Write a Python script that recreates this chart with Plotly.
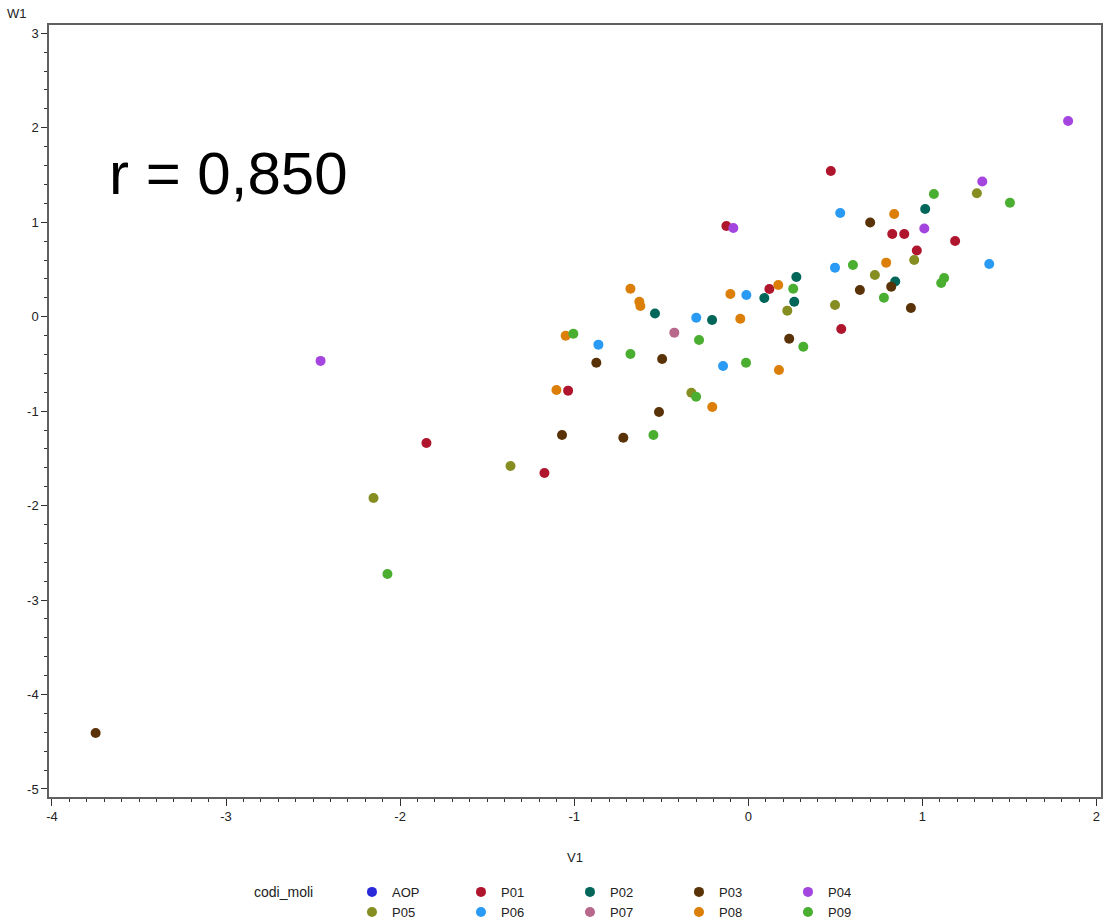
import plotly.graph_objects as go

groups = ["AOP", "P01", "P02", "P03", "P04", "P05", "P06", "P07", "P08", "P09"]
colors = ["#2A2ADB", "#B0152E", "#006659", "#5A3208", "#A545E0",
          "#868E22", "#2A9BF5", "#B8688A", "#DB7F08", "#4AAE30"]

# AOP appears only in the legend (no visible observations)
x_AOP = [None]
y_AOP = [None]
x_P01 = [0.474, -0.126, 0.827, 0.896, 0.968, 1.188, 0.121, 0.534, -1.035, -1.849, -1.171]
y_P01 = [1.542, 0.960, 0.875, 0.875, 0.701, 0.801, 0.293, -0.130, -0.783, -1.337, -1.655]
x_P02 = [1.016, 0.276, 0.092, 0.264, -0.536, -0.208, 0.844]
y_P02 = [1.140, 0.421, 0.198, 0.159, 0.034, -0.035, 0.373]
x_P03 = [0.700, 0.641, 0.821, 0.934, 0.235, -0.495, -0.873, -0.513, -1.070, -0.718, -3.749]
y_P03 = [0.997, 0.283, 0.318, 0.092, -0.233, -0.448, -0.487, -1.009, -1.252, -1.281, -4.407]
x_P04 = [1.837, -2.457, -0.086, 1.344, 1.011]
y_P04 = [2.072, -0.468, 0.939, 1.431, 0.934]
x_P05 = [1.313, 0.953, 0.727, 0.498, 0.224, -0.327, -1.366, -2.153]
y_P05 = [1.306, 0.600, 0.441, 0.124, 0.064, -0.805, -1.581, -1.919]
x_P06 = [0.528, 0.498, 1.384, -0.011, -0.299, -0.861, -0.145]
y_P06 = [1.098, 0.519, 0.558, 0.230, -0.011, -0.296, -0.522]
x_P07 = [-0.425]
y_P07 = [-0.169]
x_P08 = [0.838, 0.792, 0.172, -0.103, -0.046, -0.677, -0.626, -0.620, -1.049, -1.102, -0.207, 0.176]
y_P08 = [1.087, 0.572, 0.336, 0.240, -0.021, 0.296, 0.159, 0.113, -0.201, -0.776, -0.956, -0.564]
x_P09 = [1.066, 1.503, 0.601, 0.258, 0.779, 1.125, 1.108, 0.316, -0.013, -0.283, -0.677, -1.005, -0.300, -0.545, -2.073]
y_P09 = [1.299, 1.207, 0.547, 0.296, 0.201, 0.410, 0.357, -0.318, -0.487, -0.247, -0.395, -0.180, -0.847, -1.252, -2.724]

xs = [x_AOP, x_P01, x_P02, x_P03, x_P04, x_P05, x_P06, x_P07, x_P08, x_P09]
ys = [y_AOP, y_P01, y_P02, y_P03, y_P04, y_P05, y_P06, y_P07, y_P08, y_P09]

x_tick_vals = [-4, -3, -2, -1, 0, 1, 2]
x_tick_text = ["-4", "-3", "-2", "-1", "0", "1", "2"]
y_tick_vals = [-5, -4, -3, -2, -1, 0, 1, 2, 3]
y_tick_text = ["-5", "-4", "-3", "-2", "-1", "0", "1", "2", "3"]

r_label = "r = 0,850"
x_title = "V1"
y_title = "W1"
legend_title = "codi_moli"

FONT = "Liberation Sans, Arial, sans-serif"

fig = go.Figure()
for i, (g, c, xv, yv) in enumerate(zip(groups, colors, xs, ys)):
    fig.add_trace(go.Scatter(
        x=xv, y=yv, mode="markers", name=g,
        marker=dict(color=c, size=10, line=dict(width=0)),
        legend="legend" if i < 5 else "legend2",
    ))

axis_common = dict(
    showgrid=False, zeroline=False, showline=True, mirror=True,
    linecolor="#606060", linewidth=1.5,
    ticks="outside", tickcolor="#303030", tickwidth=1,
    tickfont=dict(family=FONT, size=13, color="#222222"),
    tickmode="array",
)

fig.update_xaxes(
    range=[-4.017, 2.026], tickvals=x_tick_vals, ticktext=x_tick_text, ticklen=7,
    minor=dict(tickmode="linear", tick0=0, dtick=0.1, ticklen=3, ticks="outside",
               tickcolor="#303030", showgrid=False),
    **axis_common,
)
fig.update_yaxes(
    range=[-5.085, 3.088], tickvals=y_tick_vals, ticktext=y_tick_text, ticklen=6,
    minor=dict(tickmode="linear", tick0=0, dtick=0.2, ticklen=3, ticks="outside",
               tickcolor="#303030", showgrid=False),
    **axis_common,
)

legend_common = dict(
    orientation="h", xref="paper", yref="paper", xanchor="left", yanchor="middle",
    entrywidth=64, entrywidthmode="pixels", itemwidth=30,
    bgcolor="rgba(0,0,0,0)", borderwidth=0,
    font=dict(family=FONT, size=13, color="#222222"),
    itemclick=False, itemdoubleclick=False,
)

fig.update_layout(
    width=1107, height=920,
    margin=dict(l=49, r=6, t=25, b=123, autoexpand=False),
    paper_bgcolor="white", plot_bgcolor="white",
    font=dict(family=FONT, size=13, color="#222222"),
    showlegend=True,
    legend=dict(x=0.288, y=-0.123, **legend_common),
    legend2=dict(x=0.288, y=-0.149, **legend_common),
    annotations=[
        dict(text=r_label, xref="paper", yref="paper", x=0.055, y=0.807,
             xanchor="left", yanchor="middle", showarrow=False,
             font=dict(family=FONT, size=60, color="black")),
        dict(text=y_title, xref="paper", yref="paper", x=-0.0304, y=1.0155,
             xanchor="center", yanchor="middle", showarrow=False,
             font=dict(family=FONT, size=13, color="#222222")),
        dict(text=x_title, xref="paper", yref="paper", x=0.5, y=-0.079,
             xanchor="center", yanchor="middle", showarrow=False,
             font=dict(family=FONT, size=13, color="#222222")),
        dict(text=legend_title, xref="paper", yref="paper", x=0.193, y=-0.123,
             xanchor="left", yanchor="middle", showarrow=False,
             font=dict(family=FONT, size=14, color="#222222")),
    ],
)

fig.write_html("out.html", config={"displayModeBar": False},
               post_script="document.body.style.margin='0px';")
